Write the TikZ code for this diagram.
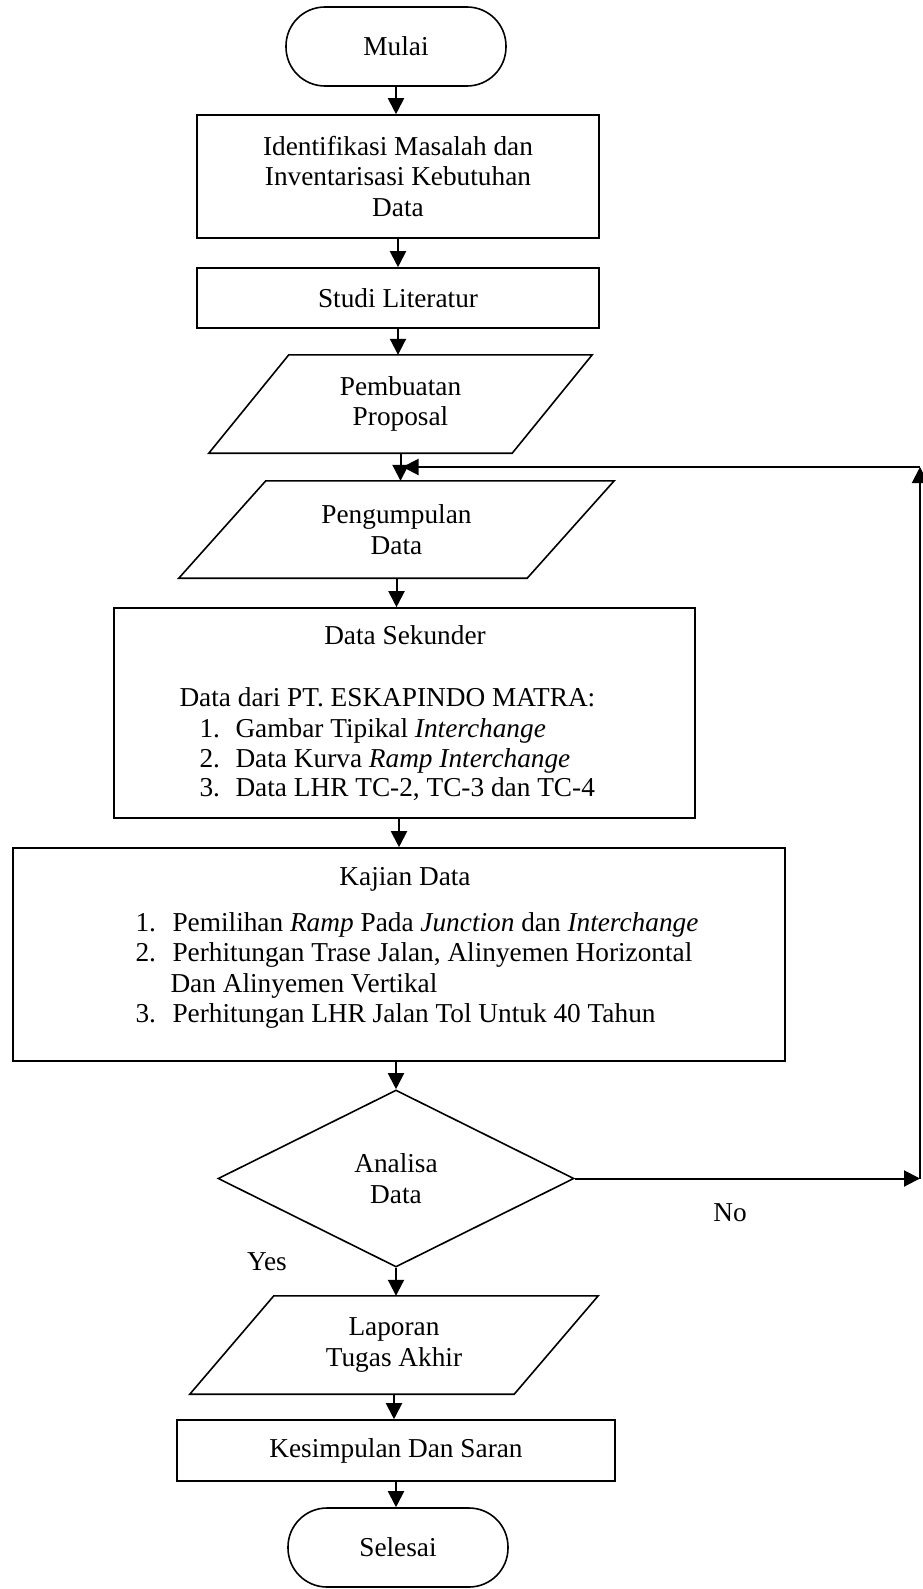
\documentclass[tikz,border=0pt]{standalone}
\usepackage{fontspec}
\setmainfont{Liberation Serif}
\usetikzlibrary{calc}
\usetikzlibrary{shapes.geometric, arrows.meta}

\begin{document}
\begin{tikzpicture}[x=1pt, y=-1pt,
  font=\fontsize{27.3}{30.5}\selectfont,
  arr/.style={line width=2pt, -{Triangle[length=16pt, width=16pt]}},
  garis/.style={line width=1.6pt},
  terminal/.style={draw, garis, rectangle, rounded corners=39pt, minimum width=220pt, minimum height=79pt, inner sep=0pt},
  proses/.style={draw, garis, rectangle, inner sep=0pt, align=center},
  io/.style={rectangle, inner sep=0pt, align=center},
  keputusan/.style={draw, garis, diamond, inner sep=0pt, align=center}]

\useasboundingbox (0,0) rectangle (922,1589);

\node[terminal] (mulai) at (396,46.5) {Mulai};

\node[proses, minimum width=402pt, minimum height=123pt] (identifikasi) at (398,176.5) {Identifikasi Masalah dan\\Inventarisasi Kebutuhan\\Data};

\node[proses, minimum width=402pt, minimum height=60pt] (studi) at (398,298) {Studi Literatur};

% jajaran genjang
\node[io, minimum width=383pt, minimum height=98pt] (proposal) at (400.5,404) {Pembuatan\\Proposal};
\draw[garis] (proposal.south west) -- ([xshift=80pt]proposal.north west) -- (proposal.north east) -- ([xshift=-80pt]proposal.south east) -- cycle;

\node[io, minimum width=435pt, minimum height=97pt] (pengumpulan) at (396.5,529.5) {Pengumpulan\\Data};
\draw[garis] (pengumpulan.south west) -- ([xshift=87pt]pengumpulan.north west) -- (pengumpulan.north east) -- ([xshift=-87pt]pengumpulan.south east) -- cycle;

% data sekunder
\node[proses, minimum width=581pt, minimum height=210pt] (sekunder) at (404.5,713) {};
\node[anchor=base] (judulsek) at (405,644) {Data Sekunder};
\node[anchor=base west] (sekdari) at (176,706) {Data dari PT. ESKAPINDO MATRA:};
\node[anchor=base west] (seknoa) at (196,737) {1.};
\node[anchor=base west] (sekteksa) at (232,737) {Gambar Tipikal \textit{Interchange}};
\node[anchor=base west] (seknob) at (196,767) {2.};
\node[anchor=base west] (sekteksb) at (232,767) {Data Kurva \textit{Ramp Interchange}};
\node[anchor=base west] (seknoc) at (196,796) {3.};
\node[anchor=base west] (sekteksc) at (232,796) {Data LHR TC-2, TC-3 dan TC-4};

% kajian data
\node[proses, minimum width=772pt, minimum height=213pt] (kajian) at (399,954.5) {};
\node[anchor=base] (judulkaj) at (405,885) {Kajian Data};
\node[anchor=base west] (kajnoa) at (132,931) {1.};
\node[anchor=base west] (kajteksa) at (169,931) {Pemilihan \textit{Ramp} Pada \textit{Junction} dan \textit{Interchange}};
\node[anchor=base west] (kajnob) at (132,961) {2.};
\node[anchor=base west] (kajteksb) at (169,961) {Perhitungan Trase Jalan, Alinyemen Horizontal};
\node[anchor=base west] (kajteksbb) at (167,992) {Dan Alinyemen Vertikal};
\node[anchor=base west] (kajnoc) at (132,1022) {3.};
\node[anchor=base west] (kajteksc) at (169,1022) {Perhitungan LHR Jalan Tol Untuk 40 Tahun};

\node[keputusan, minimum width=356pt, minimum height=177pt, aspect=2] (analisa) at (396,1178.5) {Analisa\\Data};

\node[io, minimum width=408pt, minimum height=98pt] (laporan) at (394,1345) {Laporan\\Tugas Akhir};
\draw[garis] (laporan.south west) -- ([xshift=84pt]laporan.north west) -- (laporan.north east) -- ([xshift=-84pt]laporan.south east) -- cycle;

\node[proses, minimum width=438pt, minimum height=61pt] (kesimpulan) at (396,1450.5) {Kesimpulan Dan Saran};

\node[terminal] (selesai) at (398,1547.5) {Selesai};

\node (no) at (730,1213) {No};
\node (yes) at (267,1262) {Yes};

% alur utama
\draw[arr] (mulai.south) -- (mulai.south |- identifikasi.north);
\draw[arr] (identifikasi.south) -- (identifikasi.south |- studi.north);
\draw[arr] (studi.south) -- (studi.south |- proposal.north);
\draw[arr] (proposal.south) -- (proposal.south |- pengumpulan.north);
\draw[arr] (pengumpulan.south) -- (pengumpulan.south |- sekunder.north);
\draw[arr] (sekunder.south -| kajian.north) -- (kajian.north);
\draw[arr] (kajian.south -| analisa.north) -- (analisa.north);
\draw[arr] (analisa.south) -- (analisa.south |- laporan.north);
\draw[arr] (laporan.south) -- (laporan.south |- kesimpulan.north);
\draw[arr] (kesimpulan.south) -- (kesimpulan.south |- selesai.north);

% umpan balik (No)
\coordinate (kanan1) at (920,1178.5);
\coordinate (kanan2) at (920,467);
\coordinate (kembali) at ($(proposal.south |- kanan2) + (2,0)$);
\draw[arr] (analisa.east) -- (kanan1);
\draw[arr] (kanan1) -- (kanan2);
\draw[arr] (kanan2) -- (kembali);

\end{tikzpicture}
\end{document}
